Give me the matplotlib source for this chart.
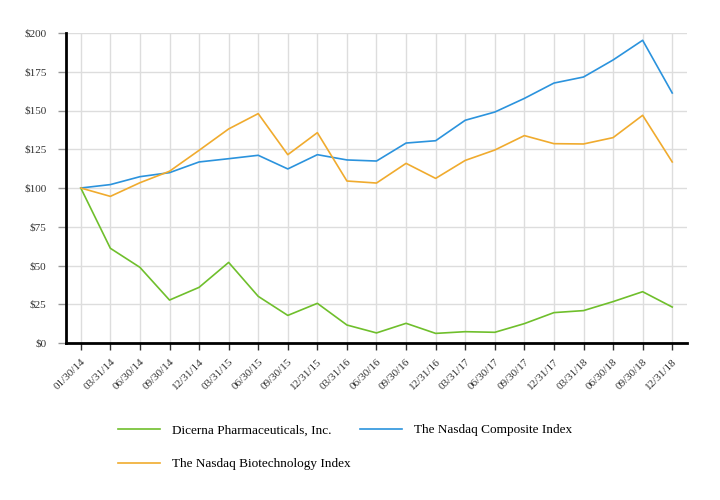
import matplotlib
matplotlib.use("Agg")
import matplotlib.pyplot as plt

dates = ["01/30/14", "03/31/14", "06/30/14", "09/30/14", "12/31/14",
         "03/31/15", "06/30/15", "09/30/15", "12/31/15", "03/31/16",
         "06/30/16", "09/30/16", "12/31/16", "03/31/17", "06/30/17",
         "09/30/17", "12/31/17", "03/31/18", "06/30/18", "09/30/18",
         "12/31/18"]

dicerna = [100, 61.1, 48.8, 27.7, 35.9, 52.0, 30.1, 17.8, 25.6, 11.6,
           6.5, 12.7, 6.2, 7.3, 6.9, 12.5, 19.6, 20.9, 26.7, 33.1, 23.2]
nasdaq_comp = [100, 102.2, 107.3, 109.9, 116.8, 118.9, 121.1, 112.3, 121.5, 118.1,
               117.4, 129.0, 130.5, 143.7, 149.0, 157.8, 167.7, 171.6, 182.6, 195.3, 161.3]
nasdaq_bio = [100, 94.6, 103.4, 110.8, 124.3, 138.1, 148.0, 121.5, 135.7, 104.5,
              103.2, 115.9, 106.2, 117.8, 124.5, 133.8, 128.6, 128.4, 132.5, 146.9, 116.8]

yticks = [0, 25, 50, 75, 100, 125, 150, 175, 200]

plt.rcParams['font.family'] = ['Liberation Serif', 'DejaVu Serif']

fig = plt.figure(figsize=(7.2, 5), dpi=100)
ax = fig.add_axes([66 / 720, 1 - 343 / 500, 621 / 720, 310 / 500])

x = list(range(len(dates)))
l1, = ax.plot(x, dicerna, color='#6fbf2c', lw=1.2, label='Dicerna Pharmaceuticals, Inc.')
l2, = ax.plot(x, nasdaq_comp, color='#2b93dd', lw=1.2, label='The Nasdaq Composite Index')
l3, = ax.plot(x, nasdaq_bio, color='#f0ab2e', lw=1.2, label='The Nasdaq Biotechnology Index')

ax.set_xlim(-0.5, 20.5)
ax.set_ylim(0, 200)
ax.set_yticks(yticks)
ax.set_yticklabels(['$%d' % v for v in yticks], fontsize=8, color='#333333')
ax.set_xticks(x)
ax.set_xticklabels(dates, rotation=45, ha='right', rotation_mode='anchor',
                   fontsize=8, color='#333333')

ax.grid(True, color='#dddddd', lw=1)
ax.set_axisbelow(True)
ax.tick_params(axis='y', length=6, color='#999999', width=1, pad=8)
ax.tick_params(axis='x', length=5, color='#333333', width=1, pad=5)

for s in ['top', 'right']:
    ax.spines[s].set_visible(False)
for s in ['left', 'bottom']:
    ax.spines[s].set_linewidth(2)
    ax.spines[s].set_color('black')

# column-major order: Dicerna / Biotech in column 1, Composite in column 2
fig.legend(handles=[l1, l3, l2], loc='upper left', bbox_to_anchor=(118 / 720, 1 - 424 / 500),
           ncol=2, frameon=False, fontsize=9.5, handlelength=3.2, handletextpad=0.9,
           columnspacing=0.7, labelspacing=1.65, borderpad=0, borderaxespad=0)

fig.savefig('out.png', dpi=100)
